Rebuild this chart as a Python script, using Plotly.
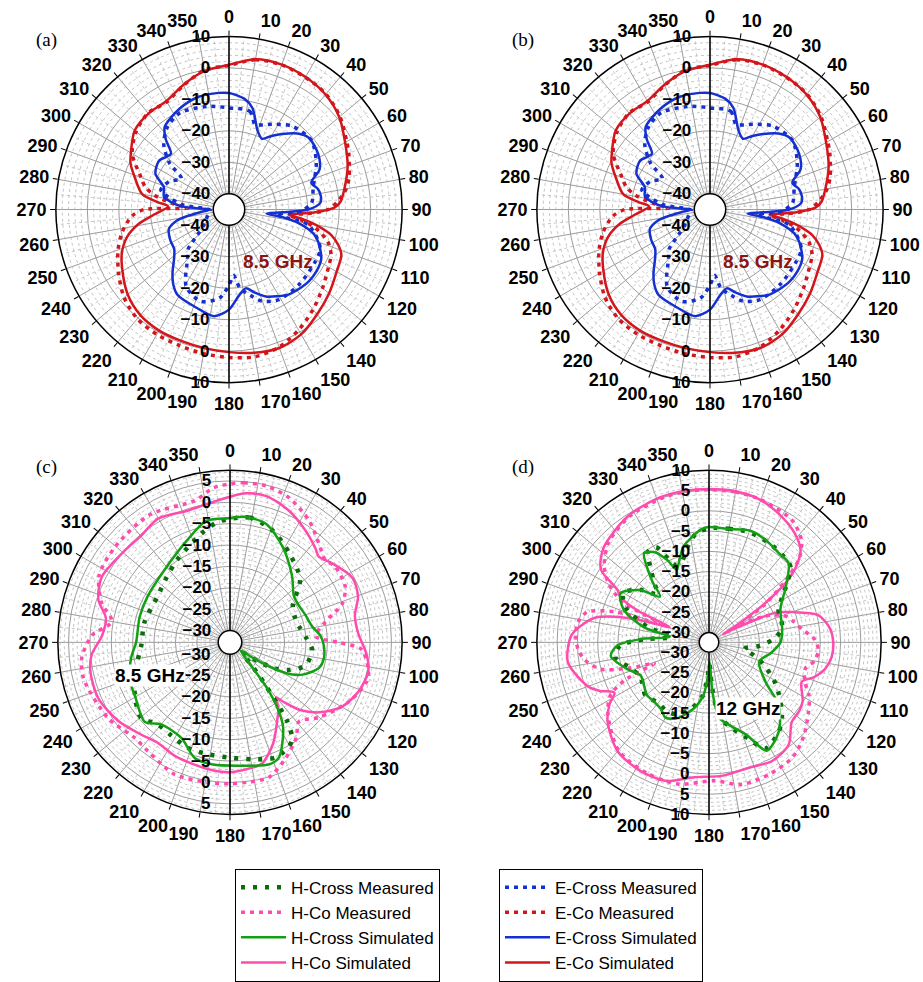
import plotly.graph_objects as go

W, H = 923, 982

# ---------------- Panel (a)/(b): E-plane pattern at 8.5 GHz (dB) ----------------
E_CO_SIM_TH = [0, 10, 20, 30, 40, 50, 60, 70, 80, 86, 89, 92, 95, 97, 100, 104, 108, 112, 120, 130,
               140, 150, 160, 170, 180, 190, 200, 210, 220, 230, 241, 248, 255, 261, 266, 273, 276,
               280, 289, 295, 300, 310, 320, 330, 340, 350]
E_CO_SIM_R = [1, 3.5, 4, 3.6, 2.7, 0.7, -2.4, -4.9, -7.8, -9.5, -11.5, -18, -26, -22, -17, -11.5, -8.5,
              -6.5, -5.5, -3.5, -1.5, 0.8, 1.8, 1.2, 0.3, -0.3, -0.6, -0.6, -1.2, -3, -6.2, -8.3, -11.5,
              -16, -21, -25.6, -22, -17, -13.3, -10.5, -9, -5.9, -5.2, -5.2, -2.8, -0.3]

E_CO_MEAS_TH = [0, 10, 20, 30, 40, 50, 60, 65, 70, 75, 80, 86, 90, 93, 95, 98, 102, 108, 114, 120, 130,
                140, 150, 160, 170, 180, 190, 200, 210, 220, 230, 240, 250, 258, 266, 270, 272, 276,
                281, 285, 290, 300, 310, 320, 330, 340, 350]
E_CO_MEAS_R = [0.8, 3.3, 3.9, 3.5, 2.9, 1, -1.8, -3, -4.3, -5.5, -7.2, -10.5, -13.5, -20, -26, -22, -17,
               -12, -9.5, -8.5, -6.2, -3.5, -0.8, 1.5, 2.5, 2, 1.5, 1, 0.8, 0.3, -1.5, -4.5, -7.5, -10.3,
               -14, -18, -32, -27, -20.8, -17.5, -15.3, -9.5, -6.5, -5, -5.5, -3, 0]

E_X_SIM_TH = [0, 8, 13, 20, 25, 30, 35, 42, 48, 58, 66, 72, 77, 82, 86, 90, 93, 96, 98, 101, 106, 110,
              118, 125, 132, 140, 145, 151, 157, 163, 168, 173, 180, 188, 198, 211, 217, 222, 228, 234,
              243, 252, 258, 261, 266, 270, 274, 281, 289, 296, 305, 310, 314, 318, 322, 334, 345, 355]
E_X_SIM_R = [-8, -9.5, -11.9, -18.4, -20.2, -18, -15.7, -12.5, -10.9, -11.6, -13.5, -17.5, -16, -15.5,
             -16, -19.8, -28, -33, -28, -22.5, -17, -14.8, -11.8, -11, -10.9, -11.5, -12, -13.5, -15,
             -17.5, -19.4, -17.7, -13.2, -10.8, -12.1, -13.3, -15.5, -18.2, -21.5, -23.5, -24, -24.9,
             -28, -31.5, -37, -39, -29.6, -24, -23.1, -19, -17.9, -19, -19.4, -15, -11.8, -9.3, -7.9, -7.8]

E_X_MEAS_TH = [0, 12, 17, 22, 27, 37, 50, 62, 75, 85, 91, 96, 101, 113, 121, 137, 151, 160, 165, 172,
               176, 180, 186, 197, 209, 220, 226, 231, 240, 255, 268, 276, 286, 295, 303, 308, 315, 323,
               333, 348]
E_X_MEAS_R = [-12.7, -13.1, -16.7, -16, -14.6, -11.8, -10.8, -13.6, -17.3, -18.6, -21.9, -30, -19.3,
              -13.5, -13, -12.4, -12.3, -14, -16.4, -19.8, -24, -21, -16.8, -14.5, -17, -24.5, -27, -32,
              -36, -38, -39, -30, -22.5, -24, -27, -21, -15.7, -12.4, -10.6, -11.5]

# ---------------- Panel (c): H-plane pattern at 8.5 GHz (dB) ----------------
HC_CO_SIM_TH = [0, 6, 14, 24, 34, 42, 46, 52, 62, 70, 78, 86, 95, 102, 111, 120, 128, 134, 138, 140,
                143, 148, 157, 165, 170, 180, 190, 205, 216, 224, 235, 247, 258, 265, 273, 281, 288,
                297, 311, 320, 330, 342, 350]
HC_CO_SIM_R = [1.3, 2.3, 2.5, 1, -1.2, -3, -3.9, -2.6, -0.4, -0.9, -2.9, -2.7, -0.7, 0.3, -0.6, -2.6,
               -6.2, -10, -14, -16, -14, -11.8, -7, -3.5, -3, -2.4, -2.7, -3.2, -3.8, -2.8, -0.8, 0.7,
               0.6, -0.3, -2.8, -3.2, -0.4, 0.9, -0.1, -0.3, 0.7, -0.4, 0]

HC_CO_MEAS_TH = [0, 5, 13, 22, 33, 42, 49, 54, 64, 71, 78, 86, 90, 93, 101, 106, 117, 130, 139, 145,
                 154, 164, 173, 180, 189, 203, 217, 225, 238, 256, 264, 273, 280, 287, 297, 310, 328,
                 346, 354]
HC_CO_MEAS_R = [4.3, 4.7, 4.8, 3.8, 1.2, -1.7, -3.3, -2.5, -2.8, -5, -10, -12.7, -7.4, -2, 0.2, 0.5,
                -1.8, -5.5, -8.2, -5.7, -2.8, 0.1, 0.2, 0.3, 0.4, 0.7, -0.9, -1.2, 0.8, 2.5, 2.1, -0.5,
                -4.7, -1.4, 1.6, 2.2, 2.5, 1.4, 3.6]

HC_X_SIM_TH = [0, 7, 17, 29, 43, 54, 62, 70, 79, 86, 92, 100, 106, 114, 118, 121, 124, 128, 136, 141,
               144, 148, 157, 162, 175, 188, 197, 207, 220, 227, 241, 247, 255, 262, 270, 286, 299, 318,
               337, 349]
HC_X_SIM_R = [-3.7, -3.2, -3.8, -7.3, -11.5, -14.3, -14.5, -14, -13.2, -11.5, -10.8, -10.5, -11.1, -14.2,
              -17, -21, -26, -29.5, -27, -19, -14, -9.3, -3.5, -2.8, -3.8, -3.9, -4.5, -7.7, -7.7, -5.5,
              -7.3, -7.6, -8.5, -9.5, -10.8, -10.8, -10.7, -9.9, -6.9, -3.8]

HC_X_MEAS_TH = [0, 9, 21, 34, 48, 60, 70, 77, 86, 95, 107, 115, 120, 124, 130, 137, 139, 142, 144, 148,
                158, 169, 180, 192, 202, 212, 221, 230, 243, 255, 268, 283, 302, 316, 327, 345, 354]
HC_X_MEAS_R = [-3.9, -3.2, -4.8, -7.8, -10.7, -15.8, -16.5, -16.2, -15, -13.5, -14.3, -17.5, -20.5,
               -24.5, -29, -25, -22, -16, -10, -5.5, -3.8, -4.9, -5.8, -6.1, -6.2, -7, -7.2, -5.5, -7.7,
               -10, -12, -12.2, -12.7, -11.5, -9.9, -6.5, -4.5]

# ---------------- Panel (d): H-plane pattern at 12 GHz (dB) ----------------
HD_CO_SIM_TH = [0, 9, 19, 28, 38, 45, 49, 52, 55, 58, 60, 62, 64, 66, 70, 76, 83, 90, 97, 103, 108, 113,
                118, 122, 127, 134, 142, 152, 162, 174, 187, 197, 208, 220, 232, 238, 242, 246, 250,
                262, 273, 279, 282, 285, 288, 291, 294, 297, 300, 304, 312, 327, 341, 352]
HD_CO_SIM_R = [5.4, 5.4, 5, 3.7, 1.8, -0.5, -4, -8, -15.4, -24, -28.5, -25, -20, -14.4, -10.6, -4.7,
               -2.5, -1.8, -2, -3.1, -5, -7.6, -6.5, -5.2, -4.5, -4.1, -0.5, 0.7, 0, 0.6, 1.1, 3.3, 3.5,
               2.6, -0.7, -3.5, -6, -3, -0.7, 2.7, 1.5, -1.5, -3.5, -8, -15, -22, -13, -8, -6.3, -0.3,
               2.5, 4.5, 5.3, 5.4]

HD_CO_MEAS_TH = [0, 10, 20, 34, 42, 47, 51, 56, 60, 63, 66, 71, 76, 82, 88, 94, 100, 105, 112, 118, 125,
                 135, 144, 155, 167, 178, 192, 205, 220, 235, 242, 246, 249, 252, 256, 262, 267, 274,
                 279, 284, 288, 291, 295, 300, 306, 315, 328, 343, 352]
HD_CO_MEAS_R = [5.2, 5.2, 5, 4, 1.6, -2, -8, -16, -24, -20, -16, -12.5, -11, -9.3, -6.5, -5.4, -6, -7.8,
                -7, -4.5, -2.5, 0.5, 2.6, 3.3, 3.5, 1.7, 3.3, 3.3, 2.3, -2, -5, -10, -18, -12, -5, -1.5,
                -0.1, 0.5, 0.2, -1.5, -8, -20, -9, -4, -0.5, 2.5, 4.3, 5, 5.2]

HD_X_SIM_TH = [0, 9, 20, 29, 38, 45, 54, 65, 80, 90, 100, 111, 125, 132, 142, 152, 158, 165, 172, 176,
               178, 181, 186, 193, 203, 210, 216, 222, 230, 244, 252, 262, 268, 273, 278, 283, 291, 299,
               307, 313, 317, 320, 324, 329, 333, 336, 340, 345, 351, 356]
HD_X_SIM_R = [-4, -4.1, -3.1, -3.6, -4.5, -4.7, -9, -13, -14.1, -14.8, -17, -19.2, -15.4, -9.3, -4.5,
              -2.2, -7.9, -11, -13.6, -20, -27.6, -25, -19.3, -15.7, -12.1, -11, -12.2, -12.5, -12.4,
              -13.7, -11.2, -8, -9.8, -16, -22.7, -16, -9.9, -7.5, -11, -15.9, -12, -8.9, -5.2, -6.5,
              -9.6, -12.8, -11, -8, -6.1, -4.5]

HD_X_MEAS_TH = [0, 10, 20, 30, 40, 47, 55, 65, 78, 86, 94, 100, 106, 112, 120, 127, 135, 142, 152, 158,
                165, 172, 176, 179, 182, 187, 195, 204, 212, 220, 230, 243, 252, 261, 268, 273, 278, 284,
                292, 300, 308, 313, 318, 322, 326, 331, 336, 341, 347, 353]
HD_X_MEAS_R = [-4.3, -4, -3.5, -3.8, -4.3, -5, -9.5, -13.5, -14, -16, -20, -23.6, -21, -18, -14, -10.8,
               -7, -4.5, -2.8, -7, -10.5, -14, -21, -27, -24, -19, -15.5, -13, -12.5, -13, -12, -13.5,
               -12, -9, -10.5, -17, -23, -17, -10.5, -8, -11.5, -15, -12, -9, -5.5, -5.6, -11.5, -11.5,
               -8.5, -5.5]

ANG_TICKS = list(range(0, 360, 10))
ANG_LABELS = [str(t) for t in ANG_TICKS]

RED, BLUE = "#d3161b", "#1530d0"
GREEN, DKGREEN, PINK = "#14a014", "#0a6e0a", "#ff4aae"

# (subplot, overlay subplot, centre x, centre y, radius px, radial range, radial ticks, minor step)
PANELS = [
    ("polar", "polar2", 229, 213, 176, [-40, 10], [-40, -30, -20, -10, 0, 10], 2),
    ("polar3", "polar4", 710, 213, 176, [-40, 10], [-40, -30, -20, -10, 0, 10], 2),
    ("polar5", "polar6", 230, 653, 175, [-30, 7.5], [-30, -25, -20, -15, -10, -5, 0, 5], 1),
    ("polar7", "polar8", 709, 653, 175, [-30, 10], [-30, -25, -20, -15, -10, -5, 0, 5, 10], 1),
]
HOLE_PX = [16, 16, 12, 10]


def closed(th, r):
    return list(th) + [th[0] + 360], list(r) + [r[0]]


def fmt(v):
    s = ("%g" % abs(v))
    return ("\u2212" + s) if v < 0 else s


fig = go.Figure()
layout = {}

for i, (sp, ov, cx, cy, R, rng, rticks, mstep) in enumerate(PANELS):
    dom = dict(x=[(cx - R) / W, (cx + R) / W], y=[1 - (cy + R) / H, 1 - (cy - R) / H])
    angfont = dict(family="Liberation Sans, Arial", size=18, color="black", weight="bold")
    radfont = dict(family="Liberation Sans, Arial", size=17, color="black", weight="bold")
    layout[sp] = dict(
        domain=dom, hole=HOLE_PX[i] / R, bgcolor="white",
        angularaxis=dict(rotation=90, direction="clockwise", tickmode="array",
                         tickvals=ANG_TICKS, ticktext=ANG_LABELS, tickfont=angfont,
                         showline=True, linecolor="black", linewidth=1.5,
                         gridcolor="#9c9c9c", gridwidth=1, ticks="outside", ticklen=5,
                         tickcolor="black"),
        radialaxis=dict(range=rng, tickmode="array", tickvals=rticks,
                        ticktext=[fmt(v) for v in rticks], angle=90, tickangle=90,
                        side="counterclockwise", tickfont=radfont, showline=True,
                        linecolor="black", linewidth=1.5, gridcolor="#9c9c9c", gridwidth=1,
                        ticks="outside", ticklen=12, tickcolor="rgba(0,0,0,0)"),
    )
    layout[ov] = dict(
        domain=dom, hole=HOLE_PX[i] / R, bgcolor="rgba(0,0,0,0)",
        angularaxis=dict(visible=False, rotation=90, direction="clockwise"),
        radialaxis=dict(range=rng, tickmode="array", tickvals=rticks,
                        ticktext=[fmt(v) for v in rticks], angle=270, tickangle=-90,
                        side="clockwise", tickfont=radfont, showline=True,
                        linecolor="black", linewidth=1.5, showgrid=False,
                        ticks="outside", ticklen=12, tickcolor="rgba(0,0,0,0)"),
    )
    # minor dotted rings and spokes
    lo, hi = rng
    n = int(round((hi - lo) / mstep))
    rings = [lo + k * mstep for k in range(1, n) if (lo + k * mstep) not in rticks]
    rr, tt = [], []
    circ = list(range(0, 361, 3))
    for v in rings:
        rr += [v] * len(circ) + [None]
        tt += circ + [None]
    for t in range(5, 360, 10):
        rr += [lo, hi, None]
        tt += [t, t, None]
    fig.add_trace(go.Scatterpolar(r=rr, theta=tt, mode="lines", subplot=sp, showlegend=False,
                                  hoverinfo="skip",
                                  line=dict(color="#b8b8b8", width=0.8, dash="dot")))
    fig.add_trace(go.Scatterpolar(r=[lo], theta=[0], mode="lines", subplot=ov, showlegend=False,
                                  hoverinfo="skip"))


def add_curve(sp, th, r, name, color, style, legend, show, rank):
    th, r = closed(th, r)
    if style == "dots":
        line = dict(color=color, width=3.5, dash="4px,5px", shape="spline", smoothing=0.8)
    elif style == "sparse":
        line = dict(color=color, width=4.5, dash="4px,8px", shape="spline", smoothing=0.8)
    else:
        line = dict(color=color, width=2.5, shape="spline", smoothing=0.8)
    fig.add_trace(go.Scatterpolar(r=r, theta=th, mode="lines", name=name, line=line, subplot=sp,
                                  legend=legend, showlegend=show, legendrank=rank))


for sp, show in (("polar", True), ("polar3", False)):
    add_curve(sp, E_CO_MEAS_TH, E_CO_MEAS_R, "E-Co Measured", RED, "dots", "legend2", show, 2)
    add_curve(sp, E_CO_SIM_TH, E_CO_SIM_R, "E-Co Simulated", RED, "solid", "legend2", show, 4)
    add_curve(sp, E_X_MEAS_TH, E_X_MEAS_R, "E-Cross Measured", BLUE, "dots", "legend2", show, 1)
    add_curve(sp, E_X_SIM_TH, E_X_SIM_R, "E-Cross Simulated", BLUE, "solid", "legend2", show, 3)

for sp, show, d in (("polar5", True, (HC_CO_MEAS_TH, HC_CO_MEAS_R, HC_CO_SIM_TH, HC_CO_SIM_R,
                                      HC_X_MEAS_TH, HC_X_MEAS_R, HC_X_SIM_TH, HC_X_SIM_R)),
                    ("polar7", False, (HD_CO_MEAS_TH, HD_CO_MEAS_R, HD_CO_SIM_TH, HD_CO_SIM_R,
                                       HD_X_MEAS_TH, HD_X_MEAS_R, HD_X_SIM_TH, HD_X_SIM_R))):
    add_curve(sp, d[0], d[1], "H-Co Measured", PINK, "dots", "legend", show, 2)
    add_curve(sp, d[2], d[3], "H-Co Simulated", PINK, "solid", "legend", show, 4)
    add_curve(sp, d[4], d[5], "H-Cross Measured", DKGREEN, "sparse", "legend", show, 1)
    add_curve(sp, d[6], d[7], "H-Cross Simulated", GREEN, "solid", "legend", show, 3)

legfont = dict(family="Liberation Sans, Arial", size=17, color="black")
leg_common = dict(bgcolor="white", bordercolor="black", borderwidth=1, font=legfont,
                  xanchor="left", yanchor="top", tracegroupgap=0, traceorder="normal",
                  itemwidth=45)
layout["legend"] = dict(x=235 / W, y=1 - 883 / H, **leg_common)
layout["legend2"] = dict(x=499 / W, y=1 - 883 / H, **leg_common)

annots = []
for txt, x, y in (("(a)", 46, 41), ("(b)", 523, 41), ("(c)", 46, 475), ("(d)", 523, 475)):
    annots.append(dict(text=txt, x=x / W, y=1 - y / H, xref="paper", yref="paper",
                       xanchor="center", yanchor="middle", showarrow=False,
                       font=dict(family="Liberation Serif, Times New Roman", size=19, color="black")))
boldfont = dict(family="Liberation Sans, Arial", size=19, weight="bold")
for txt, x, y, col, bg in (("8.5 GHz", 278, 266, "#8b1414", None), ("8.5 GHz", 758, 266, "#8b1414", None),
                           ("8.5 GHz", 150, 687, "black", "white"), ("12 GHz", 748, 720, "black", "white")):
    a = dict(text=txt, x=x / W, y=1 - y / H, xref="paper", yref="paper", showarrow=False,
             xanchor="center", yanchor="middle", font=dict(color=col, **boldfont), borderpad=0)
    if bg:
        a["bgcolor"] = bg
    annots.append(a)

fig.update_layout(width=W, height=H, margin=dict(l=0, r=0, t=0, b=0), paper_bgcolor="white",
                  annotations=annots, **layout)

fig.write_html("out.html")
